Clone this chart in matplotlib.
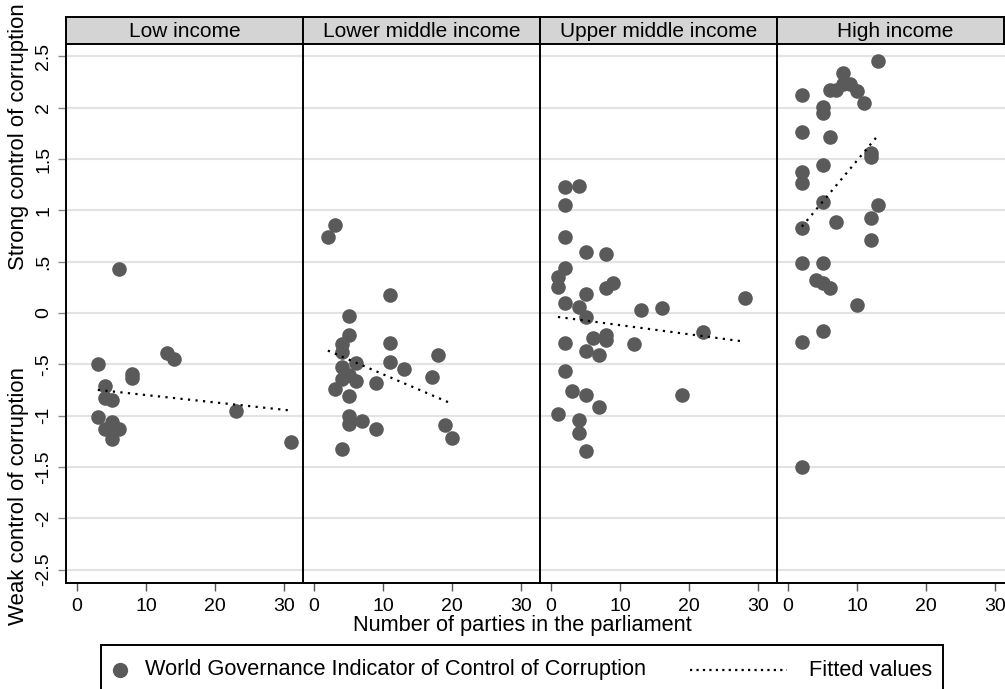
import numpy as np
import matplotlib
matplotlib.use('Agg')
import matplotlib.pyplot as plt
from matplotlib.lines import Line2D
from matplotlib.patches import Rectangle

plt.rcParams['font.family'] = ['Liberation Sans', 'DejaVu Sans']

panels = ['Low income', 'Lower middle income', 'Upper middle income', 'High income']

low_x = [6, 3, 4, 4, 5, 8, 8, 13, 14, 3, 5, 4, 6, 5, 5, 23, 31]
low_y = [0.43, -0.50, -0.71, -0.83, -0.85, -0.59, -0.63, -0.39, -0.45,
         -1.01, -1.06, -1.13, -1.13, -1.13, -1.23, -0.955, -1.26]

lmid_x = [3, 2, 11, 5, 5, 4, 4, 11, 18, 6, 11, 4, 13, 5, 4, 6, 17, 9, 3,
          5, 5, 5, 7, 9, 19, 20, 4]
lmid_y = [0.86, 0.74, 0.175, -0.03, -0.21, -0.30, -0.38, -0.29, -0.41,
          -0.49, -0.48, -0.53, -0.55, -0.60, -0.64, -0.66, -0.62, -0.685,
          -0.74, -0.81, -1.00, -1.08, -1.05, -1.13, -1.09, -1.22, -1.32]

umid_x = [2, 4, 2, 2, 5, 8, 2, 1, 1, 8, 9, 5, 2, 4, 5, 13, 16, 28, 22,
          6, 8, 8, 12, 2, 5, 7, 2, 3, 5, 19, 7, 1, 4, 4, 5]
umid_y = [1.23, 1.24, 1.05, 0.74, 0.59, 0.575, 0.435, 0.354, 0.25, 0.24,
          0.295, 0.185, 0.10, 0.055, -0.035, 0.03, 0.045, 0.146, -0.19,
          -0.24, -0.21, -0.265, -0.305, -0.29, -0.375, -0.41, -0.565,
          -0.76, -0.80, -0.80, -0.92, -0.985, -1.04, -1.17, -1.345]

high_x = [13, 8, 2, 6, 7, 8, 9, 10, 11, 5, 5, 2, 6, 12, 12, 5, 2, 2, 5,
          13, 12, 7, 2, 12, 2, 5, 4, 5, 6, 10, 5, 2, 2]
high_y = [2.456, 2.34, 2.12, 2.17, 2.17, 2.23, 2.23, 2.16, 2.05, 2.01,
          1.95, 1.76, 1.71, 1.556, 1.517, 1.44, 1.37, 1.27, 1.08, 1.05,
          0.93, 0.89, 0.825, 0.71, 0.49, 0.49, 0.32, 0.29, 0.24, 0.075,
          -0.18, -0.28, -1.50]

xs = [low_x, lmid_x, umid_x, high_x]
ys = [low_y, lmid_y, umid_y, high_y]

yticks = [2.5, 2, 1.5, 1, 0.5, 0, -0.5, -1, -1.5, -2, -2.5]
ytick_labels = ['2.5', '2', '1.5', '1', '.5', '0', '-.5', '-1', '-1.5', '-2', '-2.5']
xticks = [0, 10, 20, 30]

dot_color = '#5a5a5a'
fs = 15

fig = plt.figure(figsize=(10.05, 6.89), dpi=100)
left = 66 / 1005
w = 237 / 1005
bottom, top = 1 - 583 / 689, 1 - 44 / 689
strip_h = 27 / 689
strip_right = 1004 / 1005

for i in range(4):
    ax = fig.add_axes([left + i * w, bottom, w, top - bottom])
    x = np.array(xs[i])
    y = np.array(ys[i])
    ax.scatter(x, y, s=110, color=dot_color, linewidths=0, zorder=3)
    b, a = np.polyfit(x, y, 1)
    fx = np.array([x.min(), x.max()])
    ax.plot(fx, a + b * fx, color='black', lw=1.6, linestyle=(0, (1, 2.4)), zorder=4)

    ax.set_xlim(-1.6, 32.7)
    ax.set_ylim(-2.63, 2.62)
    ax.set_yticks(yticks)
    ax.set_xticks(xticks)
    ax.set_xticklabels([str(t) for t in xticks], fontsize=14)
    ax.grid(axis='y', color='#e3e3e3', lw=1.5, zorder=0)
    ax.set_axisbelow(True)
    for s in ['top', 'right']:
        ax.spines[s].set_visible(False)
    ax.spines['left'].set_color('black')
    ax.spines['left'].set_linewidth(1.4)
    ax.spines['bottom'].set_linewidth(1.4)
    ax.tick_params(axis='x', length=6, width=1, color='#555555', pad=5)
    if i == 0:
        ax.set_yticklabels(ytick_labels, fontsize=14, rotation=90, va='center')
        ax.tick_params(axis='y', length=6, width=1, color='#888888', pad=4)
    else:
        ax.set_yticklabels([])
        ax.tick_params(axis='y', length=0)

    # panel strip
    sw = min(w, strip_right - (left + i * w))
    sax = fig.add_axes([left + i * w, top, sw, strip_h])
    sax.set_facecolor('#d4d4d4')
    sax.set_xticks([])
    sax.set_yticks([])
    for s in sax.spines.values():
        s.set_linewidth(1.4)
    sax.text((w / 2) / sw, 0.45, panels[i], ha='center', va='center', fontsize=fs,
             transform=sax.transAxes)

fig.text(0.018, 1 - 137 / 689, 'Strong control of corruption', rotation=90,
         ha='center', va='center', fontsize=15.9)
fig.text(0.018, 1 - 496 / 689, 'Weak control of corruption', rotation=90,
         ha='center', va='center', fontsize=15.9)
fig.text(522 / 1005, 1 - 626 / 689, 'Number of parties in the parliament',
         ha='center', va='center', fontsize=15.7)

# legend box
fig.patches.append(Rectangle((101 / 1005, -0.05), (943 - 101) / 1005,
                             (689 - 645) / 689 + 0.05, transform=fig.transFigure,
                             fill=False, edgecolor='black', lw=1.4))
ly = 1 - 670 / 689
fig.lines.append(Line2D([120 / 1005], [ly], marker='o', markersize=11,
                        color=dot_color, markeredgewidth=0, transform=fig.transFigure))
fig.text(145 / 1005, ly, 'World Governance Indicator of Control of Corruption',
         ha='left', va='center', fontsize=15.7)
fig.lines.append(Line2D([690 / 1005, 787 / 1005], [ly, ly], color='black', lw=1.6,
                        linestyle=(0, (1, 1.9)), transform=fig.transFigure))
fig.text(809 / 1005, ly, 'Fitted values', ha='left', va='center', fontsize=15.7)

fig.savefig('out.png', dpi=100)
